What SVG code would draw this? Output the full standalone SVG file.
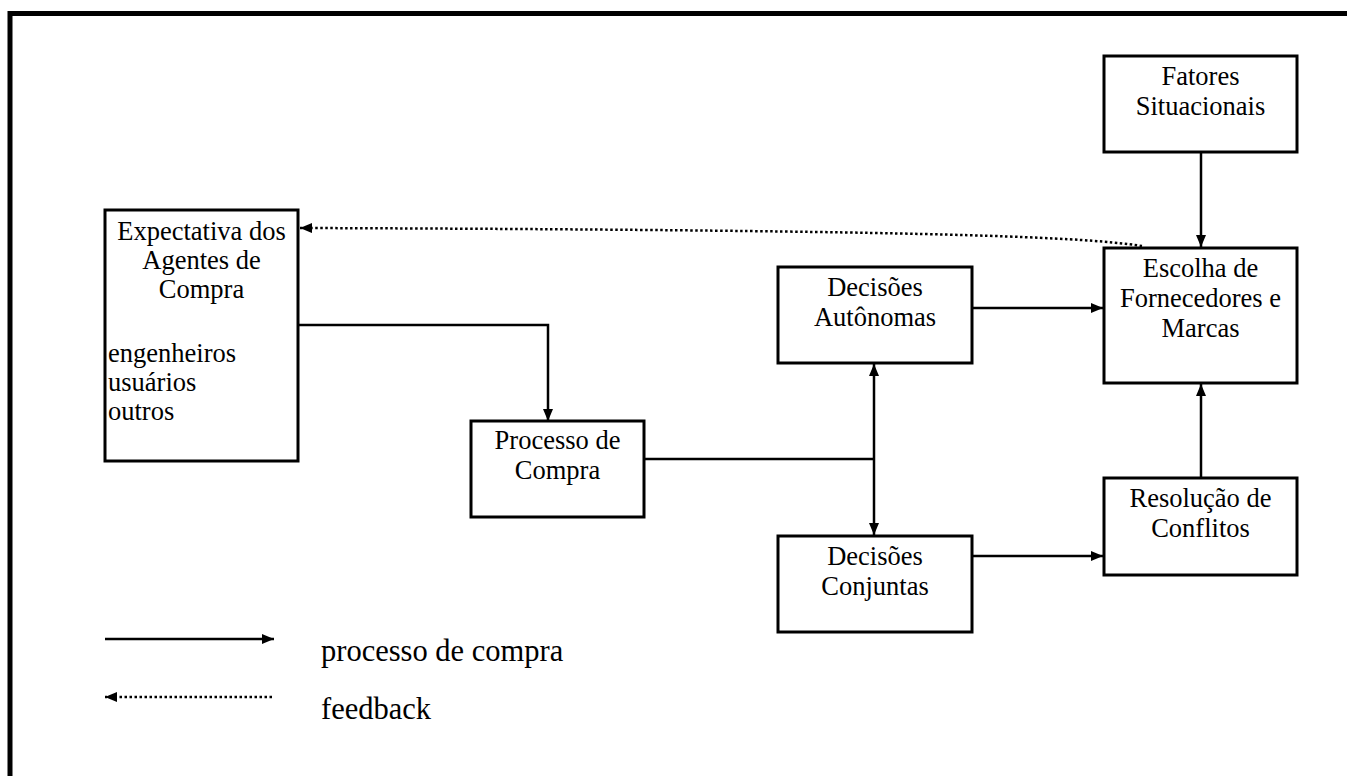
<svg xmlns="http://www.w3.org/2000/svg" width="1347" height="776" viewBox="0 0 1347 776">
<defs>
<style>
.box{fill:#fff;stroke:#000;stroke-width:3}
.t{font-family:"Liberation Serif","Times New Roman",serif;font-size:26.5px;fill:#000;text-anchor:middle}
.tl{font-family:"Liberation Serif","Times New Roman",serif;font-size:26.5px;fill:#000}
.lg{font-family:"Liberation Serif","Times New Roman",serif;font-size:30.5px;fill:#000}
.ln{fill:none;stroke:#000;stroke-width:2.5}
.dot{fill:none;stroke:#000;stroke-width:2.5;stroke-dasharray:2.5 2.5}
</style>
<marker id="ah" viewBox="0 0 12 10" refX="12" refY="5" markerWidth="12" markerHeight="10" markerUnits="userSpaceOnUse" orient="auto">
<path d="M0,0 L12,5 L0,10 Z" fill="#000"/>
</marker>
</defs>
<rect x="0" y="0" width="1347" height="776" fill="#fff"/>
<g id="frame">
<path d="M10,776 L10,13.5 L1347,13.5" fill="none" stroke="#000" stroke-width="5"/>
</g>
<g id="connectors">
<path class="ln" d="M298,325 L548,325 L548,421" marker-end="url(#ah)"/>
<path class="ln" d="M644,459 L874,459"/>
<path class="ln" d="M874,459 L874,364" marker-end="url(#ah)"/>
<path class="ln" d="M874,459 L874,535" marker-end="url(#ah)"/>
<path class="ln" d="M972,308 L1103,308" marker-end="url(#ah)"/>
<path class="ln" d="M972,556 L1103,556" marker-end="url(#ah)"/>
<path class="ln" d="M1201,152 L1201,247" marker-end="url(#ah)"/>
<path class="ln" d="M1201,478 L1201,384" marker-end="url(#ah)"/>
<path class="dot" d="M1142,246 C1080,236 900,230 300,228" marker-end="url(#ah)"/>
</g>
<g id="n-expectativa">
<rect class="box" x="105" y="210" width="193" height="251"/>
<text class="t" x="201.5" y="240">Expectativa dos</text>
<text class="t" x="201.5" y="269">Agentes de</text>
<text class="t" x="201.5" y="298">Compra</text>
<text class="tl" x="108" y="362">engenheiros</text>
<text class="tl" x="108" y="391">usuários</text>
<text class="tl" x="108" y="420">outros</text>
</g>
<g id="n-fatores">
<rect class="box" x="1104" y="56" width="193" height="96"/>
<text class="t" x="1200.5" y="85">Fatores</text>
<text class="t" x="1200.5" y="115">Situacionais</text>
</g>
<g id="n-escolha">
<rect class="box" x="1104" y="248" width="193" height="135"/>
<text class="t" x="1200.5" y="277">Escolha de</text>
<text class="t" x="1200.5" y="307">Fornecedores e</text>
<text class="t" x="1200.5" y="337">Marcas</text>
</g>
<g id="n-autonomas">
<rect class="box" x="778" y="267" width="194" height="96"/>
<text class="t" x="875" y="296">Decisões</text>
<text class="t" x="875" y="326">Autônomas</text>
</g>
<g id="n-processo">
<rect class="box" x="471" y="421" width="173" height="96"/>
<text class="t" x="557.5" y="449">Processo de</text>
<text class="t" x="557.5" y="479">Compra</text>
</g>
<g id="n-conjuntas">
<rect class="box" x="778" y="536" width="194" height="96"/>
<text class="t" x="875" y="565">Decisões</text>
<text class="t" x="875" y="595">Conjuntas</text>
</g>
<g id="n-resolucao">
<rect class="box" x="1104" y="478" width="193" height="97"/>
<text class="t" x="1200.5" y="507">Resolução de</text>
<text class="t" x="1200.5" y="537">Conflitos</text>
</g>
<g id="legend">
<path class="ln" d="M105,639 L274,639" marker-end="url(#ah)"/>
<path class="dot" d="M272,697 L105,697" marker-end="url(#ah)"/>
<text class="lg" x="321" y="661">processo de compra</text>
<text class="lg" x="321" y="719">feedback</text>
</g>
</svg>
